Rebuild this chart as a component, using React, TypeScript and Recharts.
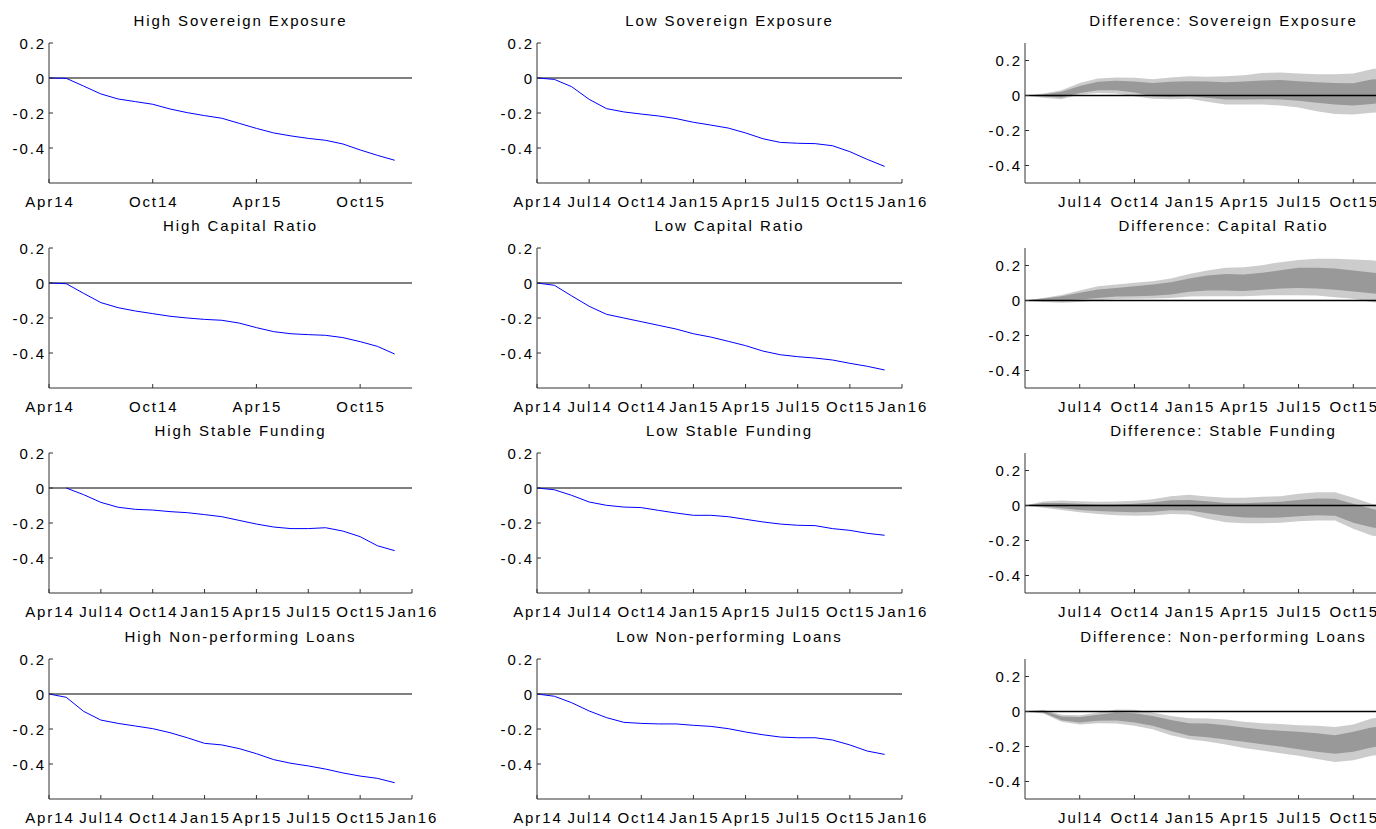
import React from 'react';
import { ComposedChart, Line, Area, XAxis, YAxis, ReferenceLine } from 'recharts';

// ---------- data ----------
const months = [0, 1, 2, 3, 4, 5, 6, 7, 8, 9, 10, 11, 12, 13, 14, 15, 16, 17, 18, 19, 20];
const tickMonths = [0, 3, 6, 9, 12, 15, 18, 21];
const tickLabels = ['Apr14', 'Jul14', 'Oct14', 'Jan15', 'Apr15', 'Jul15', 'Oct15', 'Jan16'];
const ticksHalfYear = [0, 6, 12, 18];
const ticksQuarter = [0, 3, 6, 9, 12, 15, 18, 21];
const ticksDiff = [3, 6, 9, 12, 15, 18];
const yTicks = [-0.4, -0.2, 0, 0.2];

const highSovereign = [0, -0.002, -0.046, -0.091, -0.12, -0.135, -0.15, -0.177, -0.198, -0.215, -0.23, -0.259, -0.288, -0.314, -0.331, -0.345, -0.356, -0.377, -0.411, -0.442, -0.47];
const lowSovereign = [0, -0.008, -0.05, -0.122, -0.175, -0.194, -0.206, -0.217, -0.232, -0.253, -0.269, -0.286, -0.314, -0.347, -0.368, -0.373, -0.375, -0.387, -0.421, -0.465, -0.505];
const highCapital = [0, -0.004, -0.059, -0.112, -0.141, -0.16, -0.175, -0.19, -0.2, -0.208, -0.213, -0.229, -0.255, -0.278, -0.29, -0.295, -0.299, -0.312, -0.335, -0.362, -0.406];
const lowCapital = [0, -0.013, -0.074, -0.133, -0.179, -0.2, -0.221, -0.242, -0.263, -0.29, -0.309, -0.333, -0.358, -0.389, -0.41, -0.421, -0.429, -0.44, -0.459, -0.476, -0.497];
const highFunding = [null, 0, -0.038, -0.082, -0.11, -0.122, -0.126, -0.135, -0.141, -0.152, -0.164, -0.185, -0.206, -0.223, -0.232, -0.232, -0.227, -0.246, -0.278, -0.33, -0.358];
const lowFunding = [0, -0.01, -0.042, -0.08, -0.099, -0.109, -0.112, -0.128, -0.143, -0.156, -0.156, -0.164, -0.179, -0.194, -0.206, -0.213, -0.215, -0.232, -0.242, -0.259, -0.27];
const highNpl = [0, -0.019, -0.099, -0.149, -0.168, -0.183, -0.198, -0.221, -0.25, -0.282, -0.291, -0.312, -0.341, -0.375, -0.396, -0.411, -0.429, -0.451, -0.469, -0.482, -0.507];
const lowNpl = [0, -0.013, -0.05, -0.097, -0.135, -0.162, -0.168, -0.171, -0.171, -0.179, -0.185, -0.198, -0.217, -0.233, -0.246, -0.25, -0.25, -0.263, -0.291, -0.326, -0.345];

// difference bands: outer (light) and inner (dark) lower/upper
const sovOuterHi = [0, 0.011, 0.03, 0.072, 0.097, 0.103, 0.101, 0.093, 0.103, 0.11, 0.107, 0.11, 0.116, 0.128, 0.131, 0.126, 0.122, 0.122, 0.126, 0.15, 0.17];
const sovInnerHi = [0, 0.006, 0.021, 0.055, 0.078, 0.084, 0.08, 0.072, 0.078, 0.082, 0.08, 0.076, 0.08, 0.086, 0.088, 0.082, 0.076, 0.072, 0.07, 0.091, 0.1];
const sovInnerLo = [0, -0.006, -0.011, 0.015, 0.03, 0.03, 0.017, -0.004, -0.008, -0.004, -0.013, -0.023, -0.023, -0.021, -0.023, -0.03, -0.042, -0.051, -0.057, -0.048, -0.04];
const sovOuterLo = [0, -0.013, -0.021, 0.006, 0.015, 0.011, -0.004, -0.019, -0.021, -0.019, -0.036, -0.051, -0.051, -0.051, -0.057, -0.069, -0.09, -0.105, -0.109, -0.099, -0.09];

const capOuterHi = [0, 0.015, 0.032, 0.057, 0.082, 0.091, 0.101, 0.11, 0.126, 0.152, 0.171, 0.187, 0.19, 0.202, 0.219, 0.232, 0.238, 0.238, 0.234, 0.23, 0.22];
const capInnerHi = [0, 0.011, 0.025, 0.044, 0.063, 0.072, 0.082, 0.091, 0.105, 0.126, 0.143, 0.152, 0.149, 0.158, 0.173, 0.187, 0.187, 0.183, 0.171, 0.16, 0.15];
const capInnerLo = [0, 0.002, 0, 0.006, 0.015, 0.023, 0.025, 0.027, 0.034, 0.05, 0.057, 0.057, 0.055, 0.061, 0.069, 0.072, 0.069, 0.061, 0.051, 0.042, 0.03];
const capOuterLo = [0, -0.008, -0.013, -0.008, 0.002, 0.008, 0.01, 0.011, 0.015, 0.023, 0.025, 0.025, 0.025, 0.029, 0.03, 0.03, 0.029, 0.019, 0.01, -0.008, -0.02];

const fundOuterHi = [0, 0.023, 0.029, 0.025, 0.021, 0.023, 0.027, 0.036, 0.053, 0.061, 0.051, 0.044, 0.044, 0.05, 0.053, 0.067, 0.076, 0.076, 0.044, 0.01, -0.01];
const fundInnerHi = [0, 0.015, 0.015, 0.01, 0.006, 0.006, 0.01, 0.017, 0.03, 0.032, 0.025, 0.015, 0.013, 0.017, 0.021, 0.032, 0.04, 0.038, 0.01, -0.019, -0.04];
const fundInnerLo = [0, -0.006, -0.015, -0.025, -0.032, -0.036, -0.038, -0.036, -0.027, -0.029, -0.044, -0.059, -0.069, -0.07, -0.069, -0.061, -0.055, -0.059, -0.099, -0.124, -0.14];
const fundOuterLo = [0, -0.013, -0.025, -0.038, -0.048, -0.055, -0.059, -0.057, -0.048, -0.051, -0.076, -0.095, -0.101, -0.101, -0.099, -0.09, -0.086, -0.086, -0.133, -0.171, -0.19];

const nplOuterHi = [0, 0.01, -0.019, -0.021, -0.006, 0.011, 0.01, -0.006, -0.025, -0.038, -0.04, -0.046, -0.059, -0.067, -0.072, -0.078, -0.082, -0.088, -0.074, -0.04, -0.03];
const nplInnerHi = [0, 0.004, -0.029, -0.032, -0.019, -0.006, -0.01, -0.025, -0.048, -0.067, -0.069, -0.078, -0.091, -0.103, -0.11, -0.116, -0.124, -0.135, -0.116, -0.091, -0.08];
const nplInnerLo = [0, -0.006, -0.05, -0.063, -0.053, -0.051, -0.063, -0.082, -0.112, -0.139, -0.147, -0.16, -0.173, -0.187, -0.2, -0.215, -0.23, -0.242, -0.23, -0.206, -0.19];
const nplOuterLo = [0, -0.011, -0.059, -0.074, -0.067, -0.069, -0.082, -0.101, -0.135, -0.158, -0.171, -0.189, -0.208, -0.223, -0.238, -0.253, -0.272, -0.288, -0.278, -0.253, -0.24];

// ---------- style / layout ----------
const FONT = '"Liberation Sans", Arial, Helvetica, sans-serif';
const FS = 15;
const LS = 1.9;
const AXIS = '#333333';
const BLUE = '#0000ff';
const LIGHT = '#cccccc';
const DARK = '#999999';

const colLeft = [49, 537, 1025];
const colWidth = [363, 365, 383];
const rowTop = [43, 248, 453, 659];
const plotH = 140;
const titleShift = [10, 10, 7];
const YW = 48;
const XH = 35;
const MT = 15;
const MR = 35;

const lineRows = (vals: (number | null)[]) => months.map((m, i) => ({ m, v: vals[i] }));
const bandRows = (oLo: number[], iLo: number[], iHi: number[], oHi: number[]) =>
  months.map((m, i) => ({ m, outer: [oLo[i], oHi[i]], inner: [iLo[i], iHi[i]] }));

type Panel = {
  title: string;
  row: number;
  col: number;
  ticks: number[];
  kind: 'line' | 'band';
  data: any[];
};

const panels: Panel[] = [
  { title: 'High Sovereign Exposure', row: 0, col: 0, ticks: ticksHalfYear, kind: 'line', data: lineRows(highSovereign) },
  { title: 'Low Sovereign Exposure', row: 0, col: 1, ticks: ticksQuarter, kind: 'line', data: lineRows(lowSovereign) },
  { title: 'Difference: Sovereign Exposure', row: 0, col: 2, ticks: ticksDiff, kind: 'band', data: bandRows(sovOuterLo, sovInnerLo, sovInnerHi, sovOuterHi) },
  { title: 'High Capital Ratio', row: 1, col: 0, ticks: ticksHalfYear, kind: 'line', data: lineRows(highCapital) },
  { title: 'Low Capital Ratio', row: 1, col: 1, ticks: ticksQuarter, kind: 'line', data: lineRows(lowCapital) },
  { title: 'Difference: Capital Ratio', row: 1, col: 2, ticks: ticksDiff, kind: 'band', data: bandRows(capOuterLo, capInnerLo, capInnerHi, capOuterHi) },
  { title: 'High Stable Funding', row: 2, col: 0, ticks: ticksQuarter, kind: 'line', data: lineRows(highFunding) },
  { title: 'Low Stable Funding', row: 2, col: 1, ticks: ticksQuarter, kind: 'line', data: lineRows(lowFunding) },
  { title: 'Difference: Stable Funding', row: 2, col: 2, ticks: ticksDiff, kind: 'band', data: bandRows(fundOuterLo, fundInnerLo, fundInnerHi, fundOuterHi) },
  { title: 'High Non-performing Loans', row: 3, col: 0, ticks: ticksQuarter, kind: 'line', data: lineRows(highNpl) },
  { title: 'Low Non-performing Loans', row: 3, col: 1, ticks: ticksQuarter, kind: 'line', data: lineRows(lowNpl) },
  { title: 'Difference: Non-performing Loans', row: 3, col: 2, ticks: ticksDiff, kind: 'band', data: bandRows(nplOuterLo, nplInnerLo, nplInnerHi, nplOuterHi) },
];

const XTick = (props: any) => {
  const { x, y, payload } = props;
  const idx = tickMonths.indexOf(payload.value);
  const label = idx >= 0 ? tickLabels[idx] : '';
  return (
    <g>
      <line x1={x} x2={x} y1={y} y2={y - 4} stroke={AXIS} strokeWidth={1} />
      <text x={x + LS / 2} y={y + 24} textAnchor="middle" fontFamily={FONT} fontSize={FS} fill="#000" style={{ letterSpacing: LS }}>
        {label}
      </text>
    </g>
  );
};

const YTick = (props: any) => {
  const { x, y, payload } = props;
  return (
    <g>
      <line x1={x} x2={x + 4} y1={y} y2={y} stroke={AXIS} strokeWidth={1} />
      <text x={x - 3} y={y + 5.5} textAnchor="end" fontFamily={FONT} fontSize={FS} fill="#000" style={{ letterSpacing: LS }}>
        {String(payload.value)}
      </text>
    </g>
  );
};

const PanelChart = ({ p }: { p: Panel }) => {
  const pw = colWidth[p.col];
  const pl = colLeft[p.col];
  const pt = rowTop[p.row];
  const isBand = p.kind === 'band';
  const yDomain = isBand ? [-0.5, 0.3] : [-0.6, 0.2];
  return (
    <>
      <div
        style={{
          position: 'absolute',
          left: pl + titleShift[p.col],
          top: pt - 31,
          width: pw,
          textAlign: 'center',
          fontFamily: FONT,
          fontSize: FS,
          letterSpacing: LS,
          lineHeight: '17px',
          whiteSpace: 'nowrap',
          color: '#000',
        }}
      >
        {p.title}
      </div>
      <div style={{ position: 'absolute', left: pl - YW, top: pt - MT }}>
        <ComposedChart
          width={YW + pw + MR}
          height={MT + plotH + XH}
          data={p.data}
          margin={{ top: MT, right: MR, bottom: 0, left: 0 }}
        >
          <XAxis
            dataKey="m"
            type="number"
            domain={[0, 21]}
            ticks={p.ticks}
            interval={0}
            allowDataOverflow
            height={XH}
            tickSize={0}
            tickMargin={0}
            tickLine={false}
            axisLine={{ stroke: AXIS, strokeWidth: 1 }}
            tick={<XTick />}
          />
          <YAxis
            type="number"
            domain={yDomain}
            ticks={yTicks}
            interval={0}
            allowDataOverflow
            width={YW}
            tickSize={0}
            tickMargin={0}
            tickLine={false}
            axisLine={{ stroke: AXIS, strokeWidth: 1 }}
            tick={<YTick />}
          />
          {isBand && (
            <Area dataKey="outer" type="linear" stroke="none" fill={LIGHT} fillOpacity={1} isAnimationActive={false} dot={false} activeDot={false} />
          )}
          {isBand && (
            <Area dataKey="inner" type="linear" stroke="none" fill={DARK} fillOpacity={1} isAnimationActive={false} dot={false} activeDot={false} />
          )}
          <ReferenceLine y={0} stroke="#000" strokeWidth={isBand ? 1.5 : 1} />
          {!isBand && (
            <Line dataKey="v" type="linear" stroke={BLUE} strokeWidth={1} dot={false} activeDot={false} isAnimationActive={false} />
          )}
        </ComposedChart>
      </div>
    </>
  );
}

export default function App() {
  return (
    <div
      style={{
        position: 'fixed',
        left: 0,
        top: 0,
        width: 1376,
        height: 829,
        overflow: 'hidden',
        background: '#fff',
      }}
    >
      {panels.map((p) => (
        <PanelChart key={p.title} p={p} />
      ))}
    </div>
  );
}
